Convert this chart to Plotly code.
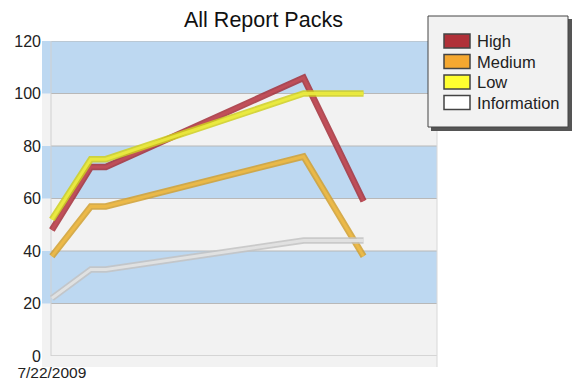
import plotly.graph_objects as go

# Report pack counts by severity over time
dates = ["2009-07-22", "2009-08-04", "2009-08-09", "2009-10-14", "2009-11-03"]
series_names = ["High", "Medium", "Low", "Information"]
high = [48, 72, 72, 106, 59]
medium = [38, 57, 57, 76, 38]
low = [52, 75, 75, 100, 100]
information = [22, 33, 33, 44, 44]
y_ticks = [0, 20, 40, 60, 80, 100, 120]
x_tick_label = "7/22/2009"

values = [high, medium, low, information]
edge_colors = ["#a5303a", "#d2a030", "#d0d020", "#c4c4c4"]
face_colors = ["#c4505a", "#f0bc48", "#eeee40", "#e6e6e6"]
swatch_colors = ["#b03038", "#f5a830", "#ffff30", "#ffffff"]

W, H = 572, 381
left, right, top, bottom = 42, 437, 41, 356
floor_depth = 11  # px of floor visible below the zero line

fig = go.Figure()

for name, vals, ec, fc in zip(series_names, values, edge_colors, face_colors):
    fig.add_trace(go.Scatter(x=dates, y=vals, mode="lines", name=name,
                             line=dict(color=ec, width=6.5), opacity=0.85,
                             showlegend=False, hoverinfo="skip"))
    fig.add_trace(go.Scatter(x=dates, y=vals, mode="lines", name=name,
                             line=dict(color=fc, width=3), opacity=0.85,
                             showlegend=False))


def px_x(p):
    return (p - left) / (right - left)


def px_y(p):
    return (bottom - p) / (bottom - top)


shapes = []
# floor strip below the zero line
shapes.append(dict(type="rect", xref="paper", yref="paper", x0=0, x1=1,
                   y0=px_y(bottom + floor_depth), y1=0, fillcolor="#f2f2f2",
                   line_width=0, layer="below"))
# alternating horizontal bands
band_colors = ["#f2f2f2", "#bdd8f1", "#f2f2f2", "#bdd8f1", "#f2f2f2", "#bdd8f1"]
for i, c in enumerate(band_colors):
    shapes.append(dict(type="rect", xref="paper", yref="y", x0=0, x1=1,
                       y0=y_ticks[i], y1=y_ticks[i + 1], fillcolor=c, line_width=0,
                       layer="below"))
# gridlines starting at the back wall
wall_x = px_x(51)
for v in y_ticks:
    shapes.append(dict(type="line", xref="paper", yref="y", x0=wall_x, x1=1,
                       y0=v, y1=v, line=dict(color="#b8b8b8", width=1.2),
                       layer="below"))
shapes.append(dict(type="line", xref="paper", yref="y", x0=wall_x, x1=wall_x,
                   y0=0, y1=120, line=dict(color="#d0d0d0", width=1), layer="below"))
shapes.append(dict(type="line", xref="paper", yref="paper", x0=1, x1=1,
                   y0=px_y(bottom + floor_depth), y1=1,
                   line=dict(color="#d8d8d8", width=1), layer="below"))

# legend box drawn in paper coordinates
shapes.append(dict(type="rect", xref="paper", yref="paper",
                   x0=px_x(431), x1=px_x(572), y0=px_y(131), y1=px_y(19),
                   fillcolor="#555555", line_width=0))
shapes.append(dict(type="rect", xref="paper", yref="paper",
                   x0=px_x(428), x1=px_x(568), y0=px_y(127), y1=px_y(16),
                   fillcolor="#f2f2f2", line=dict(color="#444444", width=1)))
annotations = []
for i, (name, sc) in enumerate(zip(series_names, swatch_colors)):
    yc = 41 + i * 20.5
    shapes.append(dict(type="rect", xref="paper", yref="paper",
                       x0=px_x(444), x1=px_x(470), y0=px_y(yc + 7), y1=px_y(yc - 7),
                       fillcolor=sc, line=dict(color="#444444", width=1.5)))
    annotations.append(dict(text=name, xref="paper", yref="paper",
                            x=px_x(475), y=px_y(yc), xanchor="left", yanchor="middle",
                            showarrow=False, font=dict(size=16.5, color="#222222")))

annotations.append(dict(text="All Report Packs", xref="paper", yref="paper",
                        x=px_x(263), y=px_y(19.5), xanchor="center", yanchor="middle",
                        showarrow=False, font=dict(size=21.5, color="#111111")))

fig.update_layout(
    width=W, height=H,
    margin=dict(l=left, r=W - right, t=top, b=H - bottom, autoexpand=False),
    paper_bgcolor="white", plot_bgcolor="#f2f2f2",
    font=dict(family="Liberation Sans, Arial, sans-serif", color="#222222"),
    shapes=shapes, annotations=annotations, showlegend=False,
    xaxis=dict(type="date", range=["2009-07-18 17:00", "2009-11-27 12:00"],
               tickvals=[dates[0]], ticktext=[x_tick_label], automargin=False,
               showgrid=False, zeroline=False, showline=False,
               tickfont=dict(size=15.5), ticks="", ticklabelstandoff=5),
    yaxis=dict(range=[0, 120], tickvals=y_ticks, showgrid=False, automargin=False,
               zeroline=False, showline=False, ticks="",
               tickfont=dict(size=16), ticklabelstandoff=0),
)

fig.write_html("out.html")
